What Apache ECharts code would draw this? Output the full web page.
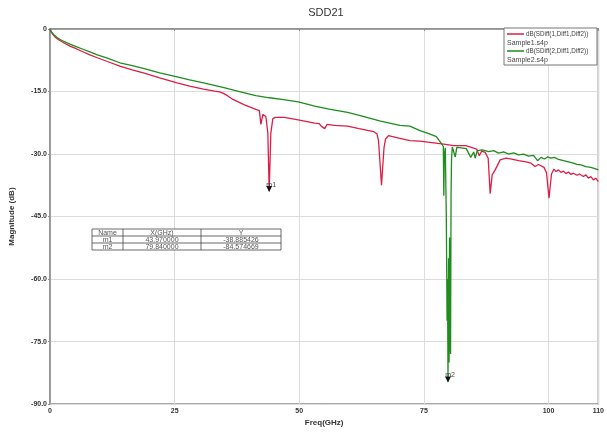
<!DOCTYPE html>
<html><head><meta charset="utf-8">
<script src="https://cdn.jsdelivr.net/npm/echarts@6/dist/echarts.min.js"></script>
<style>html,body{margin:0;padding:0;background:#fff}#c{width:607px;height:432px}</style>
</head><body><div id="c"></div>
<script>
const xTicks = [0, 25, 50, 75, 100, 110];
const yTicks = [0, -15, -30, -45, -60, -75, -90];
const seriesNames = ['dB(SDiff(1,Diff1,Diff2))', 'dB(SDiff(2,Diff1,Diff2))'];
const fileNames = ['Sample1.s4p', 'Sample2.s4p'];

const freqRed = [0,0.15,0.3,0.5,0.7,1.0,1.5,2.3,3.2,4,5,6.5,8,9.5,11.5,14,16.5,18.9,22,25.5,28,30.8,33,34.0,34.7,35.6,36.7,39,41.3,42.0,42.3,42.7,43.3,43.7,43.97,44.3,44.7,45.2,47,49.8,53.1,54.0,54.4,55.1,55.6,57,59.7,62,64.9,65.6,65.9,66.5,67.0,67.3,67.9,70,72.2,74.2,77,79,81,83.4,85,85.6,86.1,86.6,87.3,87.9,88.3,88.7,89.3,90.3,91.5,92.6,94,95.5,96.5,97.3,98,99.1,99.6,100.1,100.6,101.1,101.5,102,102.5,103,103.5,104,104.5,105,105.7,106.2,107,107.5,108,108.5,109,109.5,110];
const dbRed = [0,-0.5,-0.8,-1.2,-1.5,-1.9,-2.4,-3.0,-3.6,-4.1,-4.6,-5.4,-6.2,-6.9,-7.8,-8.9,-9.8,-10.6,-11.7,-12.9,-13.7,-14.4,-14.9,-15.1,-15.4,-16.0,-16.9,-18.2,-19.3,-19.6,-22.9,-20.5,-21.0,-25,-38.9,-25,-21.5,-21.2,-21.2,-21.8,-22.6,-22.7,-23.3,-23.9,-22.9,-23.1,-23.3,-23.9,-24.6,-25.2,-26.8,-37.5,-28.5,-26.4,-25.6,-26.2,-26.8,-26.9,-27.3,-27.6,-28.0,-28.0,-28.6,-28.8,-30.4,-29.3,-29.6,-31,-39.5,-35,-33.8,-31.4,-31.0,-31.2,-31.6,-31.9,-32.2,-33.0,-32.5,-33.2,-34.5,-40.6,-34.8,-33.6,-34.2,-33.8,-34.4,-34.1,-34.7,-34.3,-34.9,-34.6,-35.1,-34.8,-35.4,-35.0,-35.8,-35.4,-36.2,-35.8,-36.6];

const freqGreen = [0,0.15,0.3,0.5,0.7,1.0,1.5,2.3,3.2,4,5,6.5,8,9.5,11.5,14,16.5,18.9,22,25.5,28,30.8,34.7,38,41.3,44,46.5,49.8,53.1,56,59.7,63,66.3,70.2,72.2,74.2,76,77.5,78.1,78.6,78.9,79.0,79.1,79.3,79.5,79.65,79.75,79.84,79.95,80.05,80.15,80.25,80.35,80.45,80.55,80.7,81.0,81.3,81.6,82.5,83.5,84.4,84.7,85.0,85.3,85.7,86.7,88,89,90,91,92,93,94,95,96,97,97.8,98.5,99.2,99.8,100.5,101.2,102,103,104,105,105.7,106.5,107.5,108.5,109.3,110];
const dbGreen = [0,-0.45,-0.7,-1.05,-1.3,-1.7,-2.1,-2.7,-3.2,-3.65,-4.1,-4.8,-5.5,-6.2,-7.0,-8.1,-8.8,-9.5,-10.5,-11.5,-12.2,-12.9,-14.0,-15.0,-16.0,-16.5,-16.9,-17.5,-18.5,-19.2,-20.0,-21.0,-22.1,-23.1,-23.3,-24.4,-25.1,-25.8,-26.8,-27.6,-28.2,-40,-30,-28.5,-45,-70,-60,-84.6,-55,-80,-50,-75,-78,-40,-31,-28.3,-28.2,-30.7,-28.4,-28.5,-28.7,-30.8,-31.2,-29.5,-31,-29.2,-29.0,-29.4,-29.2,-29.8,-29.5,-30.0,-29.7,-30.2,-30.0,-30.5,-30.3,-31.6,-30.8,-31.2,-30.7,-31.0,-30.8,-31.3,-31.6,-31.9,-32.2,-32.5,-32.6,-33.0,-33.2,-33.5,-33.8];

const markerNames = ['m1', 'm2'];
const markerX = [43.970000, 79.840000];
const markerY = [-38.885426, -84.574669];
const markerSeries = [0, 1];

const RED = '#dc1e46', GREEN = '#1e8c1e';
const FONT = 'Liberation Sans, Arial, sans-serif';

function pairs(xs, ys){ return xs.map((x,i)=>[x, ys[i]]); }
function marks(si){
  const out = [];
  markerNames.forEach((n,i)=>{ if(markerSeries[i]===si) out.push({name:n, coord:[markerX[i], markerY[i]]}); });
  return out;
}

const chart = echarts.init(document.getElementById('c'));
const tableX = 92, tableY = 229, colW = [31, 78, 80], rowH = 7;
const tableRows = [['Name','X(GHz)','Y']].concat(markerNames.map((n,i)=>[n, markerX[i].toFixed(6), markerY[i].toFixed(6)]));
const graphics = [];
// legend box
graphics.push({type:'rect', shape:{x:504, y:28, width:93, height:37}, style:{fill:'#fff', stroke:'#777', lineWidth:1}, z:100});
[RED, GREEN].forEach((c,i)=>{
  const y0 = 34 + i*17;
  graphics.push({type:'line', shape:{x1:507,y1:y0,x2:524,y2:y0}, style:{stroke:c, lineWidth:1.5}, z:101});
  graphics.push({type:'text', x:526, y:y0, style:{text:seriesNames[i], fontSize:6.3, fontFamily:FONT, fill:'#444', verticalAlign:'middle'}, z:101});
  graphics.push({type:'text', x:507, y:y0+9, style:{text:fileNames[i], fontSize:7, fontFamily:FONT, fill:'#444', verticalAlign:'middle'}, z:101});
});
// marker table
const totalW = colW.reduce((a,b)=>a+b,0);
graphics.push({type:'rect', shape:{x:tableX, y:tableY, width:totalW, height:rowH*3}, style:{fill:'#fff', stroke:'#444', lineWidth:0.8}, z:100});
for(let r=1;r<3;r++) graphics.push({type:'line', shape:{x1:tableX,y1:tableY+r*rowH,x2:tableX+totalW,y2:tableY+r*rowH}, style:{stroke:'#444', lineWidth:0.8}, z:101});
let cx = tableX;
for(let c=0;c<3;c++){
  if(c>0) graphics.push({type:'line', shape:{x1:cx,y1:tableY,x2:cx,y2:tableY+rowH*3}, style:{stroke:'#444', lineWidth:0.8}, z:101});
  tableRows.forEach((row,r)=>{
    graphics.push({type:'text', x:cx+colW[c]/2, y:tableY+r*rowH+rowH/2+0.5, style:{text:row[c], fontSize:7, fontFamily:FONT, fill:'#555', align:'center', verticalAlign:'middle'}, z:101});
  });
  cx += colW[c];
}

function lineSeries(i, xs, ys, color){
  return {
    type:'line', name:seriesNames[i], data:pairs(xs, ys), showSymbol:false, symbol:'none',
    lineStyle:{color:color, width:1.3}, itemStyle:{color:color}, animation:false,
    markPoint:{
      symbol:'triangle', symbolRotate:180, symbolSize:[6,6], symbolOffset:[0,-2],
      itemStyle:{color:'#111'},
      label:{show:true, position:'top', distance:0, formatter:p=>p.name, fontSize:7, fontFamily:FONT, color:'#444', offset:[2,2]},
      data:marks(i)
    }
  };
}

chart.setOption({
  backgroundColor:'#fff',
  animation:false,
  title:{text:'SDD21', left:321, top:2, textAlign:'center', textStyle:{fontSize:11, fontWeight:'normal', fontFamily:FONT, color:'#333'}},
  grid:{left:44, right:6, top:29, bottom:25, show:true, borderColor:'#8c8c8c', borderWidth:1.5},
  graphic:graphics,
  xAxis:{
    type:'value', min:xTicks[0], max:xTicks[xTicks.length-1], interval:25,
    name:'Freq(GHz)', nameLocation:'middle', nameGap:13,
    nameTextStyle:{fontSize:8, fontWeight:'bold', fontFamily:FONT, color:'#333'},
    axisLine:{lineStyle:{color:'#8c8c8c', width:1.5}},
    axisTick:{show:true, length:2, lineStyle:{color:'#8c8c8c'}},
    axisLabel:{fontSize:7, fontWeight:'bold', fontFamily:FONT, color:'#333', margin:3, showMaxLabel:true},
    splitLine:{show:true, lineStyle:{color:'#dcdcdc', width:1}}
  },
  yAxis:{
    type:'value', min:yTicks[yTicks.length-1], max:yTicks[0], interval:15,
    name:'Magnitude (dB)', nameLocation:'middle', nameGap:34, nameRotate:90,
    nameTextStyle:{fontSize:8, fontWeight:'bold', fontFamily:FONT, color:'#333'},
    axisLine:{show:true, lineStyle:{color:'#8c8c8c', width:1.5}},
    axisTick:{show:true, length:2, lineStyle:{color:'#8c8c8c'}},
    axisLabel:{fontSize:7, fontWeight:'bold', fontFamily:FONT, color:'#333', margin:3,
      formatter:v=> v===0 ? '0' : v.toFixed(1)},
    splitLine:{show:true, lineStyle:{color:'#dcdcdc', width:1}}
  },
  series:[
    lineSeries(0, freqRed, dbRed, RED),
    lineSeries(1, freqGreen, dbGreen, GREEN)
  ]
});
</script></body></html>
